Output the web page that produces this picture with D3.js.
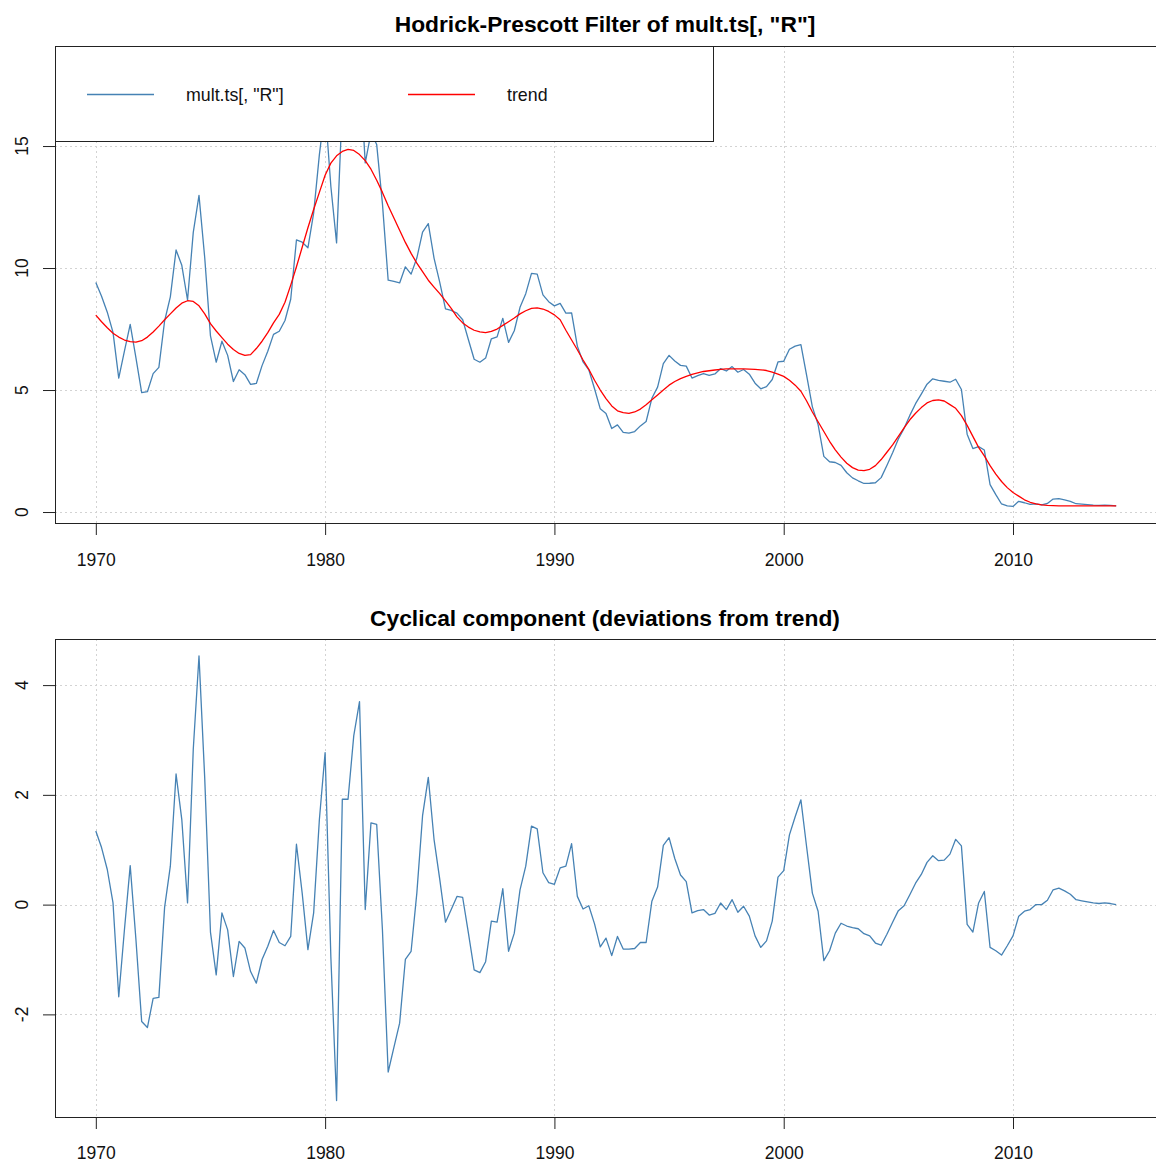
<!DOCTYPE html>
<html>
<head>
<meta charset="utf-8">
<script src="https://cdn.jsdelivr.net/npm/d3@7"></script>
<style>
    html, body { margin: 0; padding: 0; background: #fff; }
    svg { display: block; }
</style>
</head>
<body>
<svg id="chart" width="1156" height="1162"></svg>
<script>
// Hodrick-Prescott filter: series, trend and cyclical component (quarterly)

const startYear = 1970;
const frequency = 4;

const xTicks = [1970, 1980, 1990, 2000, 2010];
const xTickLabels = ['1970', '1980', '1990', '2000', '2010'];
const topTicks = [0, 5, 10, 15];
const topTickLabels = ['0', '5', '10', '15'];
const bottomTicks = [-2, 0, 2, 4];
const bottomTickLabels = ['-2', '0', '2', '4'];
const legendLabels = ['mult.ts[, "R"]', 'trend'];

// mult.ts[, "R"], 1970 Q1 .. 2014 Q3
const rate = [
    9.41, 8.84, 8.19, 7.36, 5.49, 6.60, 7.69, 6.32, 4.89, 4.93,
    5.67, 5.93, 7.83, 8.82, 10.74, 10.11, 8.69, 11.46, 12.98, 10.42,
    7.22, 6.14, 7.00, 6.42, 5.35, 5.83, 5.63, 5.23, 5.27, 6.00,
    6.59, 7.28, 7.41, 7.85, 8.72, 11.15, 11.06, 10.83, 12.25, 14.65,
    16.57, 13.35, 11.03, 16.70, 16.78, 17.90, 18.35, 14.31, 15.54, 15.06,
    12.64, 9.50, 9.45, 9.39, 10.05, 9.75, 10.41, 11.47, 11.82, 10.41,
    9.41, 8.33, 8.26, 8.15, 7.88, 7.06, 6.26, 6.14, 6.31, 7.10,
    7.18, 7.94, 6.95, 7.43, 8.39, 8.95, 9.78, 9.75, 8.90, 8.62,
    8.45, 8.55, 8.15, 8.16, 6.80, 6.15, 5.83, 5.05, 4.23, 4.04,
    3.42, 3.57, 3.26, 3.23, 3.30, 3.53, 3.71, 4.66, 5.12, 6.08,
    6.42, 6.19, 6.01, 5.98, 5.49, 5.59, 5.67, 5.60, 5.66, 5.88,
    5.78, 5.96, 5.73, 5.84, 5.65, 5.28, 5.05, 5.14, 5.43, 6.15,
    6.18, 6.67, 6.80, 6.86, 5.60, 4.31, 3.58, 2.28, 2.06, 2.03,
    1.91, 1.61, 1.40, 1.28, 1.17, 1.18, 1.20, 1.41, 1.91, 2.43,
    2.99, 3.43, 3.96, 4.44, 4.83, 5.24, 5.46, 5.40, 5.36, 5.32,
    5.44, 5.02, 3.19, 2.60, 2.68, 2.54, 1.12, 0.71, 0.33, 0.25,
    0.23, 0.44, 0.38, 0.31, 0.33, 0.29, 0.35, 0.53, 0.55, 0.50,
    0.44, 0.34, 0.32, 0.30, 0.28, 0.27, 0.28, 0.27, 0.25
];

const trend = [
    8.07, 7.80, 7.55, 7.33, 7.17, 7.05, 6.98, 6.96, 7.02, 7.17,
    7.38, 7.62, 7.88, 8.12, 8.36, 8.56, 8.66, 8.63, 8.45, 8.12,
    7.72, 7.42, 7.15, 6.88, 6.66, 6.50, 6.42, 6.45, 6.70, 7.00,
    7.35, 7.75, 8.10, 8.60, 9.30, 10.05, 10.85, 11.65, 12.40, 13.10,
    13.80, 14.30, 14.60, 14.78, 14.86, 14.82, 14.65, 14.40, 14.05, 13.60,
    13.10, 12.55, 12.05, 11.55, 11.05, 10.60, 10.20, 9.85, 9.50, 9.22,
    8.95, 8.65, 8.35, 8.00, 7.75, 7.58, 7.45, 7.38, 7.35, 7.40,
    7.50, 7.65, 7.80, 7.95, 8.12, 8.25, 8.35, 8.37, 8.32, 8.22,
    8.08, 7.88, 7.45, 7.05, 6.65, 6.23, 5.85, 5.40, 5.00, 4.65,
    4.35, 4.15, 4.07, 4.04, 4.10, 4.22, 4.40, 4.60, 4.80, 5.00,
    5.20, 5.35, 5.47, 5.56, 5.64, 5.70, 5.76, 5.79, 5.82, 5.85,
    5.87, 5.87, 5.87, 5.87, 5.86, 5.85, 5.83, 5.80, 5.73, 5.65,
    5.56, 5.40, 5.20, 4.95, 4.55, 4.10, 3.70, 3.30, 2.90, 2.55,
    2.25, 2.00, 1.82, 1.72, 1.70, 1.75, 1.90, 2.15, 2.45, 2.75,
    3.10, 3.45, 3.78, 4.05, 4.28, 4.47, 4.57, 4.60, 4.55, 4.40,
    4.25, 3.95, 3.55, 3.10, 2.65, 2.30, 1.90, 1.55, 1.25, 1.00,
    0.80, 0.65, 0.50, 0.40, 0.33, 0.29, 0.27, 0.26, 0.25, 0.25,
    0.25, 0.25, 0.25, 0.25, 0.25, 0.25, 0.25, 0.25, 0.25
];

// cyclical component (deviations from trend)
const cycle = [
    1.34, 1.04, 0.64, 0.03, -1.68, -0.45, 0.71, -0.64, -2.13, -2.24,
    -1.71, -1.69, -0.05, 0.70, 2.38, 1.55, 0.03, 2.83, 4.53, 2.30,
    -0.50, -1.28, -0.15, -0.46, -1.31, -0.67, -0.79, -1.22, -1.43, -1.00,
    -0.76, -0.47, -0.69, -0.75, -0.58, 1.10, 0.21, -0.82, -0.15, 1.55,
    2.77, -0.95, -3.57, 1.92, 1.92, 3.08, 3.70, -0.09, 1.49, 1.46,
    -0.46, -3.05, -2.60, -2.16, -1.00, -0.85, 0.21, 1.62, 2.32, 1.19,
    0.46, -0.32, -0.09, 0.15, 0.13, -0.52, -1.19, -1.24, -1.04, -0.30,
    -0.32, 0.29, -0.85, -0.52, 0.27, 0.70, 1.43, 1.38, 0.58, 0.40,
    0.37, 0.67, 0.70, 1.11, 0.15, -0.08, -0.02, -0.35, -0.77, -0.61,
    -0.93, -0.58, -0.81, -0.81, -0.80, -0.69, -0.69, 0.06, 0.32, 1.08,
    1.22, 0.84, 0.54, 0.42, -0.15, -0.11, -0.09, -0.19, -0.16, 0.03,
    -0.09, 0.09, -0.14, -0.03, -0.21, -0.57, -0.78, -0.66, -0.30, 0.50,
    0.62, 1.27, 1.60, 1.91, 1.05, 0.21, -0.12, -1.02, -0.84, -0.52,
    -0.34, -0.39, -0.42, -0.44, -0.53, -0.57, -0.70, -0.74, -0.54, -0.32,
    -0.11, -0.02, 0.18, 0.39, 0.55, 0.77, 0.89, 0.80, 0.81, 0.92,
    1.19, 1.07, -0.36, -0.50, 0.03, 0.24, -0.78, -0.84, -0.92, -0.75,
    -0.57, -0.21, -0.12, -0.09, 0.00, 0.00, 0.08, 0.27, 0.30, 0.25,
    0.19, 0.09, 0.07, 0.05, 0.03, 0.02, 0.03, 0.02, 0.00
];

const blue = '#4682B4';
const red = '#FF0000';
const gridColor = '#D3D3D3';
const font = '"Liberation Sans", Arial, sans-serif';

const svg = d3.select('#chart');
svg.append('rect').attr('width', 1156).attr('height', 1162).attr('fill', '#fff');

const timeOf = i => startYear + i / frequency;

// shared x scale (R pads the range by 4%)
const x = d3.scaleLinear().domain([1968.22, 2016.28]).range([55, 1157]);

function drawPanel(opts) {
    const { top, bottom, yDomain, ticks, tickLabels, title, titleY, labelY, id } = opts;
    const y = d3.scaleLinear().domain(yDomain).range([bottom, top]);

    svg.append('clipPath').attr('id', id)
        .append('rect')
        .attr('x', x.range()[0]).attr('y', top)
        .attr('width', x.range()[1] - x.range()[0]).attr('height', bottom - top);

    // grid
    const grid = svg.append('g')
        .attr('stroke', gridColor)
        .attr('stroke-width', 1)
        .attr('stroke-dasharray', '2,3')
        .attr('clip-path', `url(#${id})`);
    grid.selectAll('line.v').data(xTicks).join('line')
        .attr('x1', d => Math.round(x(d)) + 0.5).attr('x2', d => Math.round(x(d)) + 0.5)
        .attr('y1', top).attr('y2', bottom);
    grid.selectAll('line.h').data(ticks).join('line')
        .attr('x1', x.range()[0]).attr('x2', x.range()[1])
        .attr('y1', d => Math.round(y(d)) + 0.5).attr('y2', d => Math.round(y(d)) + 0.5);

    // x axis
    const xAxis = svg.append('g')
        .attr('transform', `translate(0,${bottom})`)
        .call(d3.axisBottom(x).tickValues(xTicks).tickSize(12).tickFormat((d, i) => xTickLabels[i]));
    xAxis.select('.domain').remove();
    xAxis.selectAll('line').attr('stroke', '#222');
    xAxis.selectAll('text')
        .attr('font-family', font).attr('font-size', 17.5).attr('fill', '#111')
        .attr('dy', null).attr('y', labelY - bottom);

    // y axis with rotated labels
    const yAxis = svg.append('g')
        .attr('transform', `translate(${x.range()[0]},0)`)
        .call(d3.axisLeft(y).tickValues(ticks).tickSize(12).tickFormat(''));
    yAxis.select('.domain').remove();
    yAxis.selectAll('line').attr('stroke', '#222');
    svg.append('g').selectAll('text').data(ticks).join('text')
        .attr('transform', d => `translate(28,${y(d)}) rotate(-90)`)
        .attr('text-anchor', 'middle')
        .attr('font-family', font).attr('font-size', 17.5).attr('fill', '#111')
        .text((d, i) => tickLabels[i]);

    svg.append('text')
        .attr('x', 605).attr('y', titleY)
        .attr('text-anchor', 'middle')
        .attr('font-family', font).attr('font-size', 22.8).attr('font-weight', 'bold')
        .attr('fill', '#000')
        .text(title);

    return y;
}

function drawLine(y, values, color, id) {
    const line = d3.line().x((d, i) => x(timeOf(i))).y(d => y(d));
    svg.append('path')
        .datum(values)
        .attr('clip-path', `url(#${id})`)
        .attr('fill', 'none')
        .attr('stroke', color)
        .attr('stroke-width', 1.3)
        .attr('stroke-linejoin', 'round')
        .attr('d', line);
}

function drawBox(top, bottom) {
    svg.append('rect')
        .attr('x', x.range()[0] + 0.5).attr('y', top + 0.5)
        .attr('width', x.range()[1] - x.range()[0]).attr('height', bottom - top)
        .attr('fill', 'none').attr('stroke', '#222').attr('stroke-width', 1);
}

// --- top panel
const yTop = drawPanel({
    id: 'clipTop', top: 46, bottom: 523, yDomain: [-0.45, 19.1],
    ticks: topTicks, tickLabels: topTickLabels,
    title: 'Hodrick-Prescott Filter of mult.ts[, "R"]', titleY: 32, labelY: 566
});
drawLine(yTop, rate, blue, 'clipTop');
drawLine(yTop, trend, red, 'clipTop');
drawBox(46, 523);

// legend
const legend = svg.append('g');
legend.append('rect')
    .attr('x', 55.5).attr('y', 46.5).attr('width', 658).attr('height', 95)
    .attr('fill', '#fff').attr('stroke', '#222').attr('stroke-width', 1);
const legendItems = [
    { label: legendLabels[0], color: blue, x0: 87 },
    { label: legendLabels[1], color: red, x0: 408 }
];
legendItems.forEach(it => {
    legend.append('line')
        .attr('x1', it.x0).attr('x2', it.x0 + 67)
        .attr('y1', 94.5).attr('y2', 94.5)
        .attr('stroke', it.color).attr('stroke-width', 1.3);
    legend.append('text')
        .attr('x', it.x0 + 99).attr('y', 101)
        .attr('font-family', font).attr('font-size', 17.8).attr('fill', '#111')
        .text(it.label);
});

// --- bottom panel
const yBottom = drawPanel({
    id: 'clipBottom', top: 639, bottom: 1117, yDomain: [-3.87, 4.84],
    ticks: bottomTicks, tickLabels: bottomTickLabels,
    title: 'Cyclical component (deviations from trend)', titleY: 626, labelY: 1159
});
drawLine(yBottom, cycle, blue, 'clipBottom');
drawBox(639, 1117);
</script>
</body>
</html>
